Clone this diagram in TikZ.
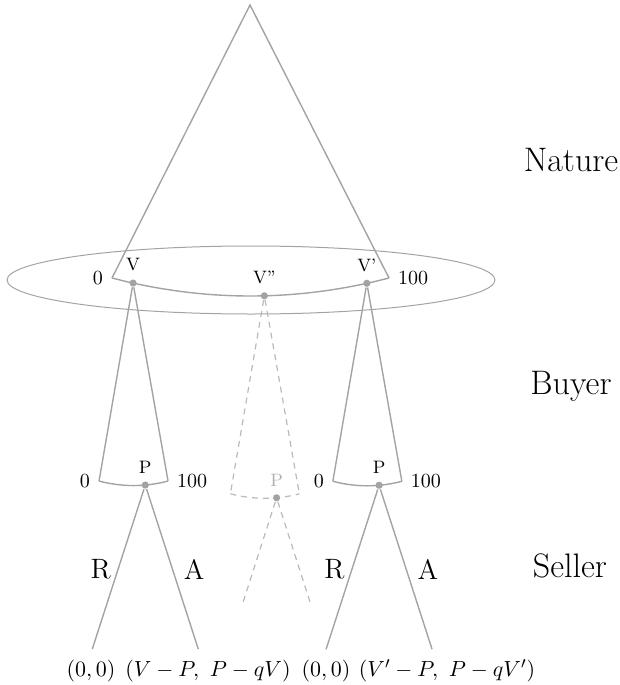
\documentclass[tikz,border=0pt]{standalone}
\usepackage{amsmath}
\usepackage{tikz}
\usetikzlibrary{positioning, calc, shapes.geometric}
\definecolor{treegray}{gray}{0.64}

\begin{document}
\begin{tikzpicture}[x=0.5pt,y=-0.5pt,
  branch/.style={draw=treegray,line width=0.7pt},
  ghost/.style={draw=treegray!75,line width=0.6pt,dash pattern=on 3pt off 2.5pt},
  dot/.style={circle,fill=treegray,inner sep=0pt,minimum size=3.6pt},
  vlab/.style={font=\small},
  player/.style={font=\fontsize{17}{20}\selectfont,anchor=base},
  move/.style={font=\fontsize{14}{17}\selectfont},
  pay/.style={font=\fontsize{11}{13}\selectfont,anchor=base}]
  \useasboundingbox (0,0) rectangle (620,685);
  \node[draw=treegray,line width=0.5pt,ellipse,minimum width=244pt,minimum height=34pt,inner sep=0pt] (info) at (251,280) {};
  \coordinate (top) at (250,5);
  \coordinate (n0) at (112,278);
  \coordinate (n1) at (389,278);
  \draw[branch] (n0) -- (top) -- (n1);
  \draw[branch] (n0) .. controls (204.3,302) and (296.7,302) .. (n1)
    node[dot,pos=0.076,label={[vlab]above:V}] (v) {}
    node[dot,pos=0.55,label={[vlab]above:V''}] (vm) {}
    node[dot,pos=0.92,label={[vlab]above:V'}] (vr) {};
  \node[left=1pt of n0] (n0lab) {0};
  \node[right=1pt of n1] (n1lab) {100};
  \foreach \s in {v,vr}{
    \coordinate (lo\s) at ($(\s)+(-34,198)$);
    \coordinate (hi\s) at ($(\s)+(35,198)$);
    \draw[branch] (\s) -- (lo\s) (\s) -- (hi\s);
    \draw[branch] (lo\s) .. controls ($(\s)+(-11,204)$) and ($(\s)+(12,204)$) .. (hi\s)
      node[dot,pos=0.67,label={[vlab]above:P}] (p\s) {};
    \node[left=1pt of lo\s] {0};
    \node[right=1pt of hi\s] {100};
    \coordinate (rej\s) at ($(p\s)+(-53,164)$);
    \coordinate (acc\s) at ($(p\s)+(53,164)$);
    \draw[branch] (p\s) -- (rej\s) node[move,midway,left] {R};
    \draw[branch] (p\s) -- (acc\s) node[move,midway,right=2pt] {A};
  }
  \coordinate (lovm) at ($(vm)+(-34,198)$);
  \coordinate (hivm) at ($(vm)+(35,198)$);
  \draw[ghost] (vm) -- (lovm) (vm) -- (hivm);
  \draw[ghost] (lovm) .. controls ($(vm)+(-11,204)$) and ($(vm)+(12,204)$) .. (hivm)
    node[dot,pos=0.67,label={[vlab,text=treegray!85]above:P}] (pvm) {};
  \coordinate (rejvm) at ($(pvm)+(-34,106)$);
  \coordinate (accvm) at ($(pvm)+(34,106)$);
  \draw[ghost] (pvm) -- (rejvm) (pvm) -- (accvm);
  \node[pay] (pay1) at (91,676) {$(0,0)$};
  \node[pay] (pay2) at (208,676) {$(V-P,\ P-qV)$};
  \node[pay] (pay3) at (326,676) {$(0,0)$};
  \node[pay] (pay4) at (447,676) {$(V'-P,\ P-qV')$};
  \node[player] (nature) at (571,171) {Nature};
  \node[player] (buyer) at (571,394) {Buyer};
  \node[player] (seller) at (570,577) {Seller};
\end{tikzpicture}
\end{document}
